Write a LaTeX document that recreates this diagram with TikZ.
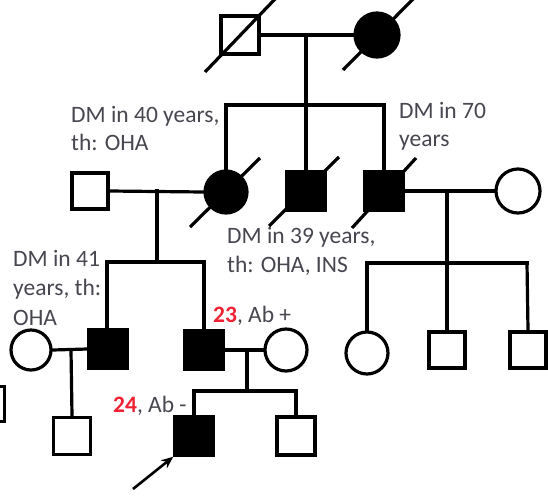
\documentclass[tikz,border=0pt]{standalone}
\usepackage{fontspec}
\setmainfont{Carlito}
\usetikzlibrary{arrows.meta}
\definecolor{txtgrey}{HTML}{474750}
\definecolor{txtred}{HTML}{EE2233}
\begin{document}
\begin{tikzpicture}[x=1pt,y=-1pt,
  sq/.style={draw=black,line width=3.5pt,minimum size=#1,inner sep=0pt,fill=white},
  sq/.default=37pt,
  fsq/.style={sq=#1,fill=black},
  fsq/.default=38pt,
  cir/.style={circle,draw=black,line width=3.2pt,minimum size=#1,inner sep=0pt,fill=white},
  cir/.default=42pt,
  fcir/.style={cir=#1,fill=black},
  fcir/.default=43pt,
  conn/.style={line width=3.2pt,line cap=rect},
  slash/.style={line width=3.2pt},
  lbl/.style={anchor=base west,inner sep=0pt,text=txtgrey,font=\fontsize{23.5pt}{29pt}\selectfont},
]
\path[use as bounding box] (0,0) rectangle (548,496);
\clip (0,0) rectangle (548,496);
\fill[white] (0,0) rectangle (548,496);

% ---- coordinates for sibship / descent lines
\coordinate (d1top) at (306,35);
\coordinate (d1bot) at (306,105);
\coordinate (sibL2) at (226,105);
\coordinate (sibR2) at (384,105);

% Generation I
\node[sq=38pt] (gf) at (240,35) {};
\node[fcir=44pt] (gm) at (377,35) {};
\draw[conn] (gf.east) -- (gm.west);
\draw[conn] (d1top) -- (d1bot);
\draw[conn] (sibL2) -- (sibR2);

% Generation II
\node[fcir=42pt] (mo) at (226,192) {};
\node[fsq] (un1) at (306,191) {};
\node[fsq] (un2) at (384,191) {};
\node[cir=44pt] (un2w) at (518,191) {};
\node[sq=36pt] (fa) at (90,191) {};
\draw[conn] (sibL2) -- (mo.north);
\draw[conn] (306,105) -- (un1.north);
\draw[conn] (sibR2) -- (un2.north);
\draw[conn] (fa.east) -- (mo.west);
\draw[conn] (un2.east) -- (un2w.west);

% slashes (deceased)
\draw[slash] (205,72) -- (276,-2);
\draw[slash] (343,70) -- (414,-2);
\draw[slash] (190,227) -- (260,158);
\draw[slash] (269,226) -- (339,157);
\draw[slash] (352,228) -- (416,158);

% Generation III, left family
\coordinate (d2top) at (157,191);
\coordinate (d2bot) at (157,262);
\coordinate (sibL3a) at (107,262);
\coordinate (sibL3b) at (204,262);
\draw[conn] (d2top) -- (d2bot);
\draw[conn] (sibL3a) -- (sibL3b);
\node[fsq] (br) at (108,349) {};
\node[fsq] (fa4) at (204,350) {};
\draw[conn] (sibL3a) -- (107,330);
\draw[conn] (sibL3b) -- (fa4.north);
\node[cir=40pt] (brw) at (31,350) {};
\node[cir=42pt] (mo4) at (286,350) {};
\draw[conn] (brw.east) -- (br.west);
\draw[conn] (fa4.east) -- (mo4.west);

% Generation III, right family
\coordinate (d3top) at (447,191);
\coordinate (d3bot) at (447,263);
\coordinate (sibR3a) at (367,263);
\coordinate (sibR3b) at (527,263);
\draw[conn] (d3top) -- (d3bot);
\draw[conn] (sibR3a) -- (sibR3b);
\node[cir=42pt] (cz1) at (367,353) {};
\node[sq=36pt] (cz2) at (447,350) {};
\node[sq=36pt] (cz3) at (528,350) {};
\draw[conn] (sibR3a) -- (cz1.north);
\draw[conn] (447,263) -- (cz2.north);
\draw[conn] (sibR3b) -- (cz3.north);

% Generation IV
\coordinate (d4top) at (71,350);
\coordinate (d5top) at (247,350);
\coordinate (d5bot) at (247,391);
\coordinate (sib4a) at (194,391);
\coordinate (sib4b) at (296,391);
\node[sq=37pt] (nep) at (72,436) {};
\draw[conn] (d4top) -- (nep.north);
\draw[conn] (d5top) -- (d5bot);
\draw[conn] (sib4a) -- (sib4b);
\node[fsq] (pro) at (194,436) {};
\node[sq=38pt] (sib) at (296,436) {};
\draw[conn] (sib4a) -- (pro.north);
\draw[conn] (sib4b) -- (sib.north);
\node[sq=35pt] (edge) at (-13,404) {};

% proband arrow
\coordinate (arrtail) at (133,489);
\draw[line width=2.6pt,-{Stealth[length=12pt,width=10pt]}] (arrtail) -- (pro.south west);

% labels
\node[lbl] (l1a) at (71,122) {DM in 40 years,};
\node[lbl] (l1b) at (71,150) {th: OHA};
\node[lbl] (l2a) at (399,118) {DM in 70};
\node[lbl] (l2b) at (399,146) {years};
\node[lbl] (l3a) at (227,243) {DM in 39 years,};
\node[lbl] (l3b) at (227,272) {th: OHA, INS};
\node[lbl] (l4a) at (13,266) {DM in 41};
\node[lbl] (l4b) at (13,295) {years, th:};
\node[lbl] (l4c) at (13,325) {OHA};
\node[lbl] (l5) at (213,322) {\textcolor{txtred}{\textbf{23}}, Ab +};
\node[lbl] (l6) at (113,412) {\textcolor{txtred}{\textbf{24}}, Ab -};
\end{tikzpicture}
\end{document}
